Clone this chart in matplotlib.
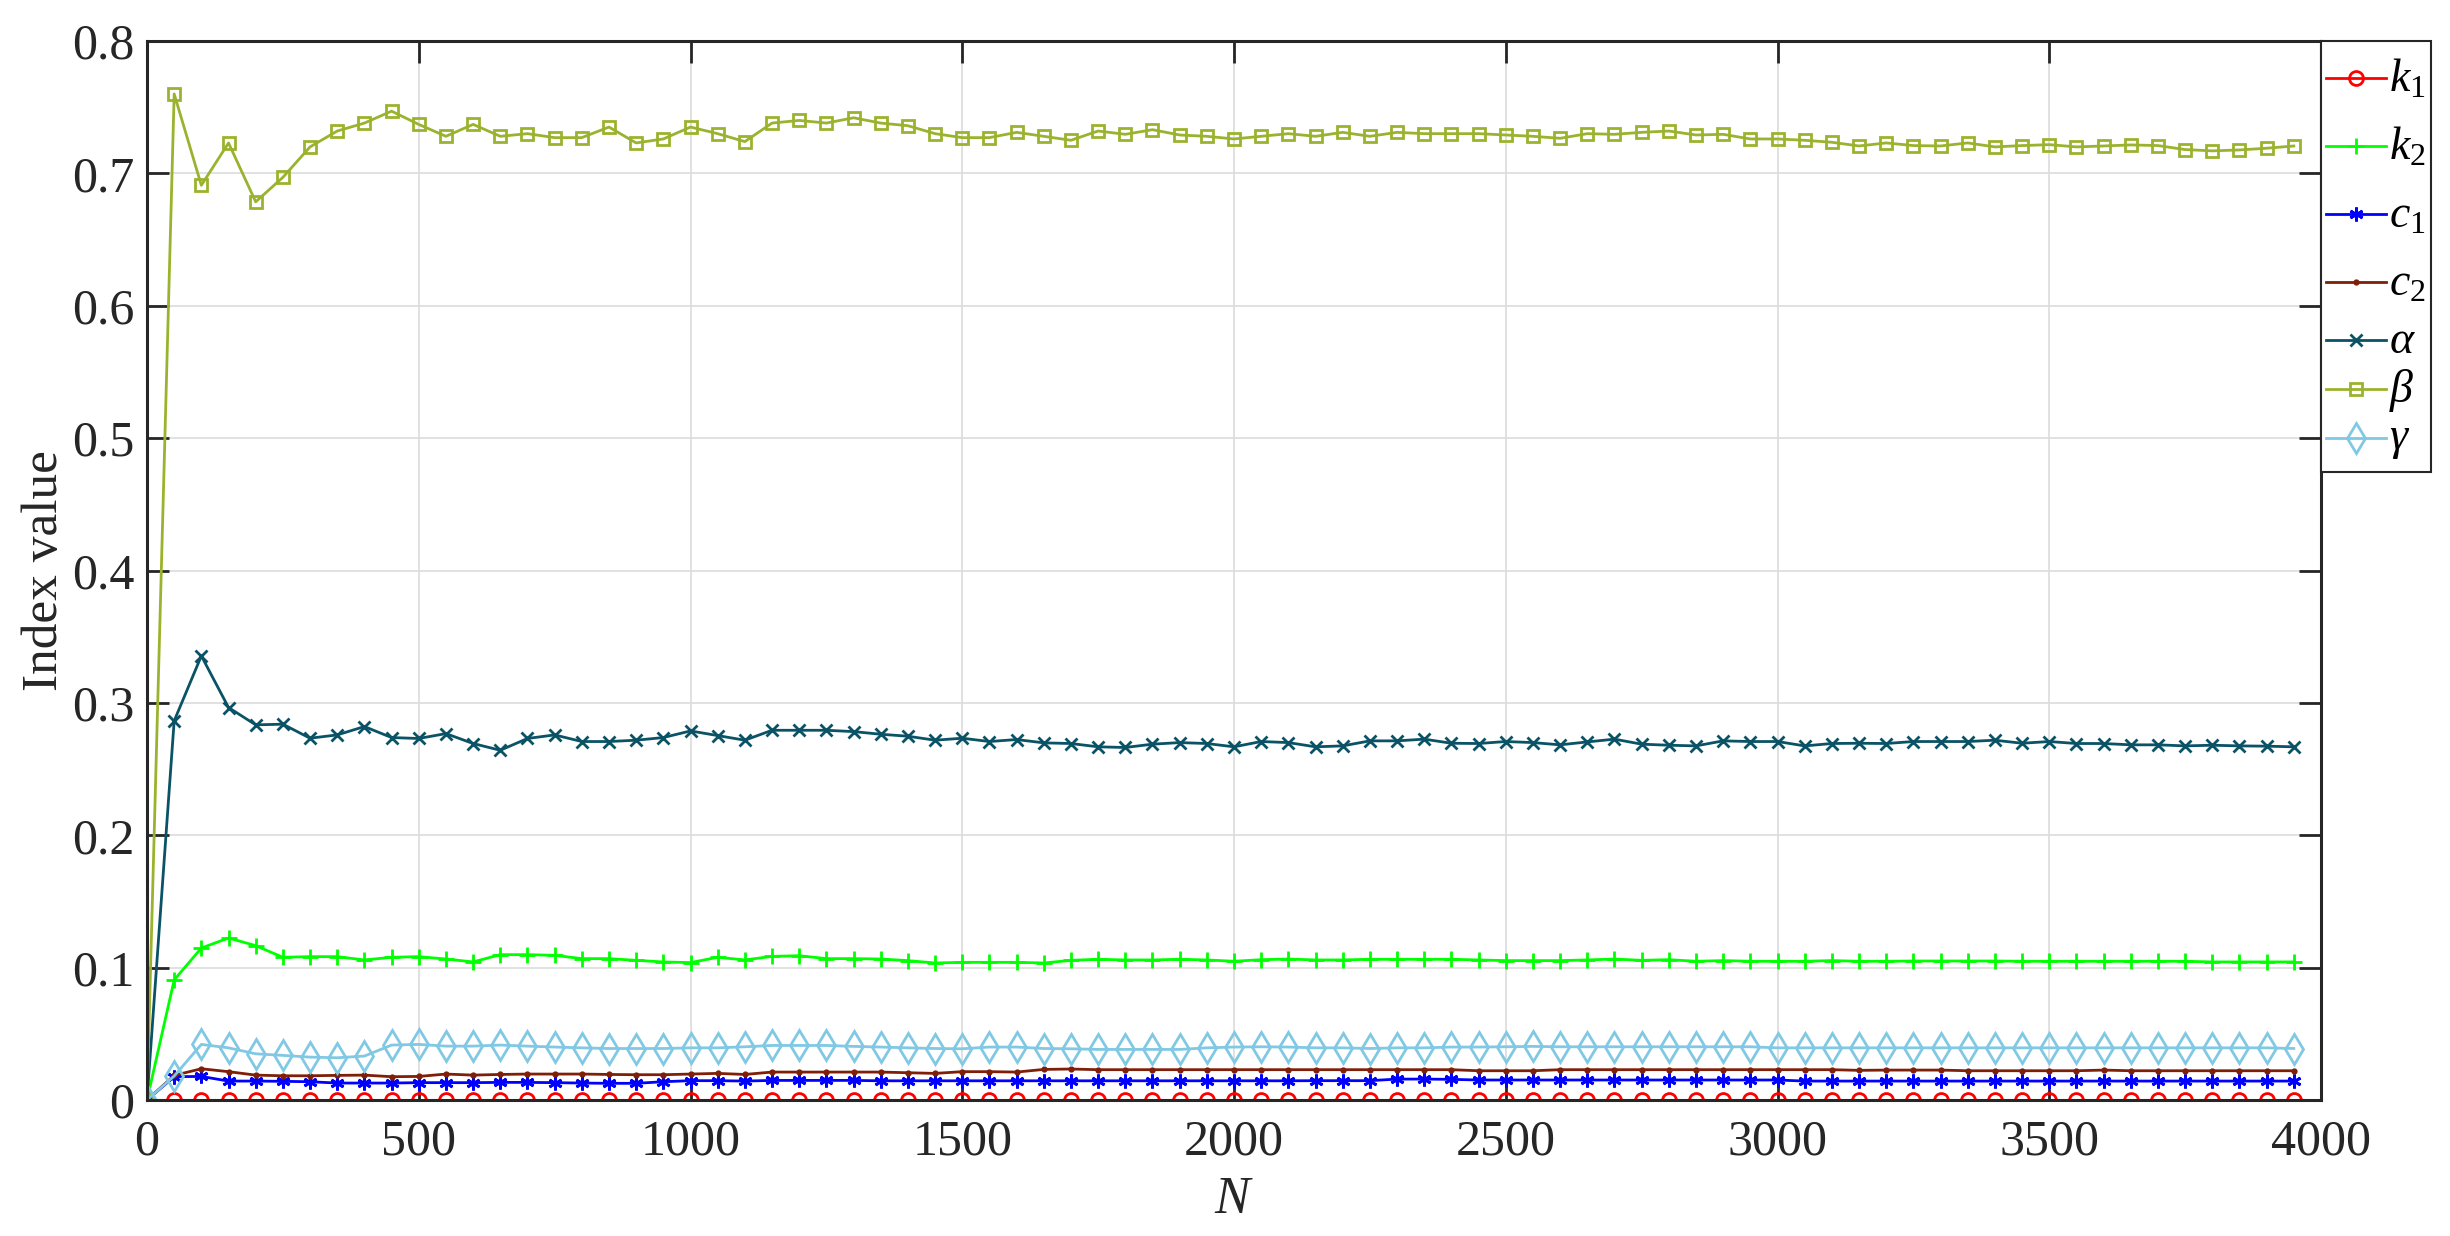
import numpy as np
import matplotlib
matplotlib.use("Agg")
import matplotlib.pyplot as plt
from matplotlib.lines import Line2D
from matplotlib.patches import Rectangle

plt.rcParams['font.family'] = ['Liberation Serif', 'DejaVu Serif']
plt.rcParams['mathtext.fontset'] = 'custom'
plt.rcParams['mathtext.rm'] = 'Liberation Serif'
plt.rcParams['mathtext.it'] = 'Liberation Serif:italic'
plt.rcParams['mathtext.bf'] = 'Liberation Serif:bold'

N = np.arange(0, 4000, 50)

k1 = [0.0, 0.0, 0.0, 0.0, 0.0, 0.0, 0.0, 0.0, 0.0, 0.0,
      0.0, 0.0, 0.0, 0.0, 0.0, 0.0, 0.0, 0.0, 0.0, 0.0,
      0.0, 0.0, 0.0, 0.0, 0.0, 0.0, 0.0, 0.0, 0.0, 0.0,
      0.0, 0.0, 0.0, 0.0, 0.0, 0.0, 0.0, 0.0, 0.0, 0.0,
      0.0, 0.0, 0.0, 0.0, 0.0, 0.0, 0.0, 0.0, 0.0, 0.0,
      0.0, 0.0, 0.0, 0.0, 0.0, 0.0, 0.0, 0.0, 0.0, 0.0,
      0.0, 0.0, 0.0, 0.0, 0.0, 0.0, 0.0, 0.0, 0.0, 0.0,
      0.0, 0.0, 0.0, 0.0, 0.0, 0.0, 0.0, 0.0, 0.0, 0.0]

k2 = [0.0, 0.0907, 0.1148, 0.1224, 0.1166, 0.1078, 0.1083, 0.1083, 0.1058, 0.1078,
      0.1083, 0.1065, 0.1043, 0.1098, 0.1098, 0.1093, 0.1068, 0.1068, 0.1055, 0.1043,
      0.1038, 0.1078, 0.1058, 0.1085, 0.1090, 0.1068, 0.1068, 0.1065, 0.1053, 0.1035,
      0.1040, 0.1040, 0.1040, 0.1035, 0.1055, 0.1063, 0.1058, 0.1058, 0.1063, 0.1058,
      0.1048, 0.1060, 0.1065, 0.1058, 0.1058, 0.1063, 0.1063, 0.1063, 0.1063, 0.1058,
      0.1053, 0.1053, 0.1053, 0.1058, 0.1065, 0.1055, 0.1060, 0.1048, 0.1053, 0.1048,
      0.1048, 0.1048, 0.1053, 0.1048, 0.1048, 0.1050, 0.1050, 0.1050, 0.1050, 0.1048,
      0.1048, 0.1048, 0.1048, 0.1048, 0.1048, 0.1048, 0.1043, 0.1043, 0.1043, 0.1043]

c1 = [0.0, 0.0176, 0.0178, 0.0143, 0.0143, 0.0141, 0.0138, 0.0128, 0.0128, 0.0128,
      0.0131, 0.0131, 0.0131, 0.0133, 0.0133, 0.0131, 0.0128, 0.0126, 0.0126, 0.0138,
      0.0146, 0.0146, 0.0143, 0.0148, 0.0148, 0.0148, 0.0148, 0.0145, 0.0145, 0.0145,
      0.0145, 0.0145, 0.0145, 0.0145, 0.0145, 0.0145, 0.0145, 0.0145, 0.0145, 0.0145,
      0.0145, 0.0145, 0.0145, 0.0146, 0.0146, 0.0146, 0.0158, 0.0158, 0.0156, 0.0151,
      0.0151, 0.0151, 0.0151, 0.0151, 0.0151, 0.0151, 0.0151, 0.0151, 0.0151, 0.0151,
      0.0151, 0.0143, 0.0143, 0.0143, 0.0143, 0.0143, 0.0143, 0.0143, 0.0143, 0.0143,
      0.0143, 0.0143, 0.0143, 0.0143, 0.0143, 0.0143, 0.0143, 0.0143, 0.0143, 0.0143]

c2 = [0.0, 0.0186, 0.0236, 0.0214, 0.0188, 0.0183, 0.0183, 0.0186, 0.0188, 0.0176,
      0.0178, 0.0196, 0.0188, 0.0193, 0.0196, 0.0196, 0.0196, 0.0193, 0.0191, 0.0191,
      0.0196, 0.0201, 0.0193, 0.0211, 0.0211, 0.0211, 0.0211, 0.0211, 0.0206, 0.0201,
      0.0214, 0.0214, 0.0211, 0.0231, 0.0234, 0.0229, 0.0229, 0.0229, 0.0229, 0.0229,
      0.0229, 0.0229, 0.0229, 0.0229, 0.0229, 0.0229, 0.0229, 0.0229, 0.0229, 0.0221,
      0.0221, 0.0221, 0.0229, 0.0229, 0.0229, 0.0229, 0.0229, 0.0229, 0.0229, 0.0229,
      0.0229, 0.0229, 0.0229, 0.0224, 0.0226, 0.0226, 0.0226, 0.0221, 0.0221, 0.0221,
      0.0221, 0.0221, 0.0226, 0.0221, 0.0221, 0.0221, 0.0221, 0.0221, 0.0221, 0.0221]

alpha = [0.0, 0.2864, 0.3355, 0.2965, 0.2834, 0.2839, 0.2733, 0.2758, 0.2821, 0.2738,
         0.2731, 0.2768, 0.2693, 0.2642, 0.2731, 0.2758, 0.2708, 0.2708, 0.2718, 0.2738,
         0.2788, 0.2753, 0.2718, 0.2793, 0.2793, 0.2793, 0.2783, 0.2763, 0.2748, 0.2718,
         0.2733, 0.2708, 0.2723, 0.2698, 0.2693, 0.2668, 0.2663, 0.2688, 0.2700, 0.2693,
         0.2668, 0.2708, 0.2700, 0.2668, 0.2675, 0.2713, 0.2713, 0.2726, 0.2695, 0.2693,
         0.2708, 0.2700, 0.2683, 0.2705, 0.2726, 0.2688, 0.2680, 0.2675, 0.2713, 0.2708,
         0.2708, 0.2675, 0.2693, 0.2695, 0.2693, 0.2708, 0.2708, 0.2708, 0.2718, 0.2695,
         0.2708, 0.2693, 0.2693, 0.2683, 0.2683, 0.2675, 0.2680, 0.2675, 0.2673, 0.2668]

beta = [0.0, 0.760, 0.691, 0.723, 0.6785, 0.697, 0.720, 0.732, 0.738, 0.747,
        0.737, 0.728, 0.737, 0.728, 0.730, 0.727, 0.727, 0.735, 0.723, 0.726,
        0.735, 0.730, 0.724, 0.738, 0.740, 0.738, 0.742, 0.738, 0.736, 0.730,
        0.727, 0.727, 0.731, 0.728, 0.725, 0.732, 0.7295, 0.733, 0.729, 0.728,
        0.726, 0.728, 0.730, 0.728, 0.731, 0.728, 0.731, 0.730, 0.730, 0.730,
        0.729, 0.728, 0.7265, 0.730, 0.7295, 0.731, 0.732, 0.729, 0.7295, 0.726,
        0.726, 0.725, 0.7235, 0.7207, 0.723, 0.721, 0.7207, 0.723, 0.720, 0.721,
        0.7217, 0.720, 0.7207, 0.7215, 0.721, 0.718, 0.717, 0.7177, 0.719, 0.7207]

gamma = [0.0, 0.0181, 0.0420, 0.0394, 0.0349, 0.0337, 0.0324, 0.0319, 0.0332, 0.0415,
         0.0420, 0.0407, 0.0407, 0.0415, 0.0407, 0.0400, 0.0394, 0.0389, 0.0389, 0.0389,
         0.0394, 0.0394, 0.0402, 0.0412, 0.0412, 0.0412, 0.0405, 0.0400, 0.0394, 0.0389,
         0.0387, 0.0400, 0.0400, 0.0389, 0.0387, 0.0382, 0.0382, 0.0382, 0.0382, 0.0394,
         0.0400, 0.0402, 0.0400, 0.0394, 0.0394, 0.0389, 0.0394, 0.0394, 0.0400, 0.0400,
         0.0402, 0.0405, 0.0402, 0.0402, 0.0402, 0.0402, 0.0402, 0.0402, 0.0402, 0.0402,
         0.0394, 0.0394, 0.0394, 0.0394, 0.0394, 0.0394, 0.0394, 0.0394, 0.0394, 0.0394,
         0.0394, 0.0394, 0.0394, 0.0394, 0.0394, 0.0394, 0.0394, 0.0394, 0.0394, 0.0389]

labels = [r'$k_1$', r'$k_2$', r'$c_1$', r'$c_2$', r'$\alpha$', r'$\beta$', r'$\gamma$']
x_ticks = [0, 500, 1000, 1500, 2000, 2500, 3000, 3500, 4000]
y_ticks = [0, 0.1, 0.2, 0.3, 0.4, 0.5, 0.6, 0.7, 0.8]

series = [k1, k2, c1, c2, alpha, beta, gamma]
colors = ['#FF0000', '#00FF00', '#0000FF', '#7F1F08', '#0A5266', '#9AB32E', '#80C8E4']
markers = ['o', '+', (6, 2, 0), '.', 'x', 's', 'd']
msizes = [10, 12, 10, 5, 8, 8, 15]

W, H = 2450, 1236
fig = plt.figure(figsize=(W / 100, H / 100), dpi=100)
ax = fig.add_axes([147 / W, 1 - 1100 / H, (2321 - 147) / W, (1100 - 41) / H])

for y, lab, col, mk, ms in zip(series, labels, colors, markers, msizes):
    ax.plot(N, y, color=col, marker=mk, markersize=ms, markerfacecolor='none',
            markeredgecolor=col, markeredgewidth=2, linewidth=2, label=lab)

ax.set_xlim(0, 4000)
ax.set_ylim(0, 0.8)
ax.set_xticks(x_ticks)
ax.set_yticks(y_ticks)
ax.set_xticklabels([str(v) for v in x_ticks])
ax.set_yticklabels(['0' if v == 0 else f'{v:.1f}' for v in y_ticks])
ax.grid(True, color='#DCDCDC', linewidth=1.2)
ax.set_axisbelow(True)
ax.tick_params(axis='both', which='major', direction='in', length=16, width=2,
               labelsize=36, colors='#262626', top=True, right=True)
ax.tick_params(axis='y', pad=9)
ax.tick_params(axis='x', pad=14)
for sp in ax.spines.values():
    sp.set_linewidth(2.2)
    sp.set_color('#262626')

ax.set_xlabel(r'$N$', fontsize=38, color='#262626', labelpad=7)
ax.set_ylabel('Index value', fontsize=37, color='#262626', labelpad=3)

# Legend (MATLAB-style box outside the right edge of the axes)
def fx(px):
    return px / W

def fy(py):
    return 1 - py / H

box_left, box_right, box_top, box_bottom = 2321, 2431, 41, 472
fig.add_artist(Rectangle((fx(box_left), fy(box_bottom)), fx(box_right) - fx(box_left),
                         fy(box_top) - fy(box_bottom), transform=fig.transFigure,
                         facecolor='white', edgecolor='#262626', linewidth=1.5,
                         zorder=5))
entry_y = [78, 146, 214, 282, 340, 389, 438]
for yy, lab, col, mk, ms in zip(entry_y, labels, colors, markers, msizes):
    ln = Line2D([fx(2326), fx(2356), fx(2386)], [fy(yy)] * 3, transform=fig.transFigure,
                color=col, linewidth=2, marker=mk, markersize=ms, markevery=[1],
                markerfacecolor='none', markeredgecolor=col, markeredgewidth=2,
                zorder=6)
    fig.add_artist(ln)
    fig.text(fx(2389), fy(yy + 2), lab, fontsize=33, va='center', ha='left',
             color='black', zorder=7)

fig.savefig('out.png', dpi=100, facecolor='white')
